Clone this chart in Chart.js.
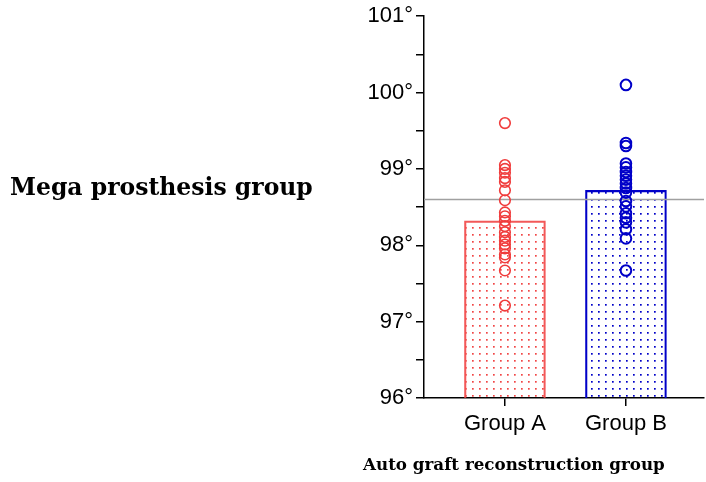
<!DOCTYPE html>
<html>
<head>
<meta charset="utf-8">
<script src="https://cdn.jsdelivr.net/npm/chart.js@4.4.1/dist/chart.umd.min.js"></script>
<style>
  body { margin: 0; background: #fff; }
  #wrap { position: relative; width: 706px; height: 482px; }
  .ttl { position: absolute; font-family: "DejaVu Serif", serif; font-weight: bold; color: #000; white-space: nowrap; line-height: 1; }
</style>
</head>
<body>
<div id="wrap">
  <canvas id="c" width="706" height="482"></canvas>
  <div class="ttl" id="t1" style="left:10px; top:176px;">Mega prosthesis group</div>
  <div class="ttl" id="t2" style="left:363px; top:456px;">Auto graft reconstruction group</div>
</div>
<script>
// data
var groups = ["Group A", "Group B"];
var groupMeans = [98.32, 98.72];
var groupA = [99.60, 99.05, 99.00, 98.95, 98.88, 98.83, 98.72, 98.59, 98.43, 98.38, 98.32,
              98.25, 98.17, 98.11, 98.06, 98.01, 97.96, 97.88, 97.84, 97.67, 97.21];
var groupB = [100.10, 99.34, 99.30, 99.07, 99.02, 98.96, 98.91, 98.86, 98.81, 98.75, 98.69,
              98.58, 98.51, 98.42, 98.36, 98.30, 98.21, 98.09, 97.67];
var normalTemp = 98.6;
var yTicks = [96, 97, 98, 99, 100, 101];

var red = "rgb(240,60,60)";
var blue = "rgb(0,0,200)";
var xMin = -0.669, xMax = 1.645;

// fit the titles to their width in the picture
function fit(id, w) {
  var el = document.getElementById(id);
  var size = 20;
  el.style.fontSize = size + "px";
  size = size * w / el.offsetWidth;
  el.style.fontSize = size.toFixed(2) + "px";
}
fit("t1", 303);
fit("t2", 302);

function dots(color) {
  var c = document.createElement("canvas");
  c.width = 7; c.height = 7;
  var g = c.getContext("2d");
  g.fillStyle = color;
  g.fillRect(3, 3, 1.7, 1.7);
  return g.createPattern(c, "repeat");
}

var ctx = document.getElementById("c").getContext("2d");

new Chart(ctx, {
  type: "bar",
  data: {
    datasets: [
      {
        type: "scatter",
        data: groupA.map(function(v) { return {x: 0, y: v}; }),
        pointRadius: 5.3,
        pointBorderWidth: 1.6,
        pointBorderColor: red,
        pointBackgroundColor: "rgba(0,0,0,0)",
        order: 1
      },
      {
        type: "scatter",
        data: groupB.map(function(v) { return {x: 1, y: v}; }),
        pointRadius: 5.3,
        pointBorderWidth: 2,
        pointBorderColor: blue,
        pointBackgroundColor: "rgba(0,0,0,0)",
        order: 1
      },
      {
        type: "line",
        data: [{x: xMin, y: normalTemp}, {x: xMax, y: normalTemp}],
        borderColor: "#a0a0a0",
        borderWidth: 1.5,
        pointRadius: 0,
        order: 2
      },
      {
        type: "bar",
        data: groupMeans.map(function(v, i) { return {x: i, y: v}; }),
        backgroundColor: [dots("rgba(240,60,60,0.95)"), dots(blue)],
        borderColor: ["rgba(240,60,60,0.85)", blue],
        borderWidth: 1.5,
        barThickness: 81,
        order: 3
      }
    ]
  },
  options: {
    responsive: false,
    animation: false,
    layout: { autoPadding: false, padding: { top: 15, right: 2, left: 0, bottom: 0 } },
    plugins: { legend: { display: false }, tooltip: { enabled: false } },
    scales: {
      x: {
        type: "linear",
        min: xMin,
        max: xMax,
        offset: false,
        afterBuildTicks: function(s) {
          s.ticks = groups.map(function(g, i) { return {value: i}; });
        },
        afterFit: function(s) { s.height = 84; s.paddingLeft = 0; s.paddingRight = 0; },
        ticks: {
          color: "#000",
          font: { family: "Liberation Sans", size: 22 },
          padding: 5,
          callback: function(v) { return groups[v]; }
        },
        grid: { offset: false, drawOnChartArea: false, drawTicks: true, tickLength: 8, color: "#000", lineWidth: 1.5 },
        border: { display: true, color: "#000", width: 1.5 }
      },
      y: {
        min: yTicks[0],
        max: yTicks[yTicks.length - 1],
        afterFit: function(s) { s.width = 424; },
        ticks: {
          stepSize: 0.5,
          color: "#000",
          font: { family: "Liberation Sans", size: 22 },
          padding: 3,
          callback: function(v) { return yTicks.indexOf(v) >= 0 ? v + "°" : ""; }
        },
        grid: { drawOnChartArea: false, drawTicks: true, tickLength: 8, color: "#000", lineWidth: 1.5 },
        border: { display: true, color: "#000", width: 1.5 }
      }
    }
  }
});
</script>
</body>
</html>
